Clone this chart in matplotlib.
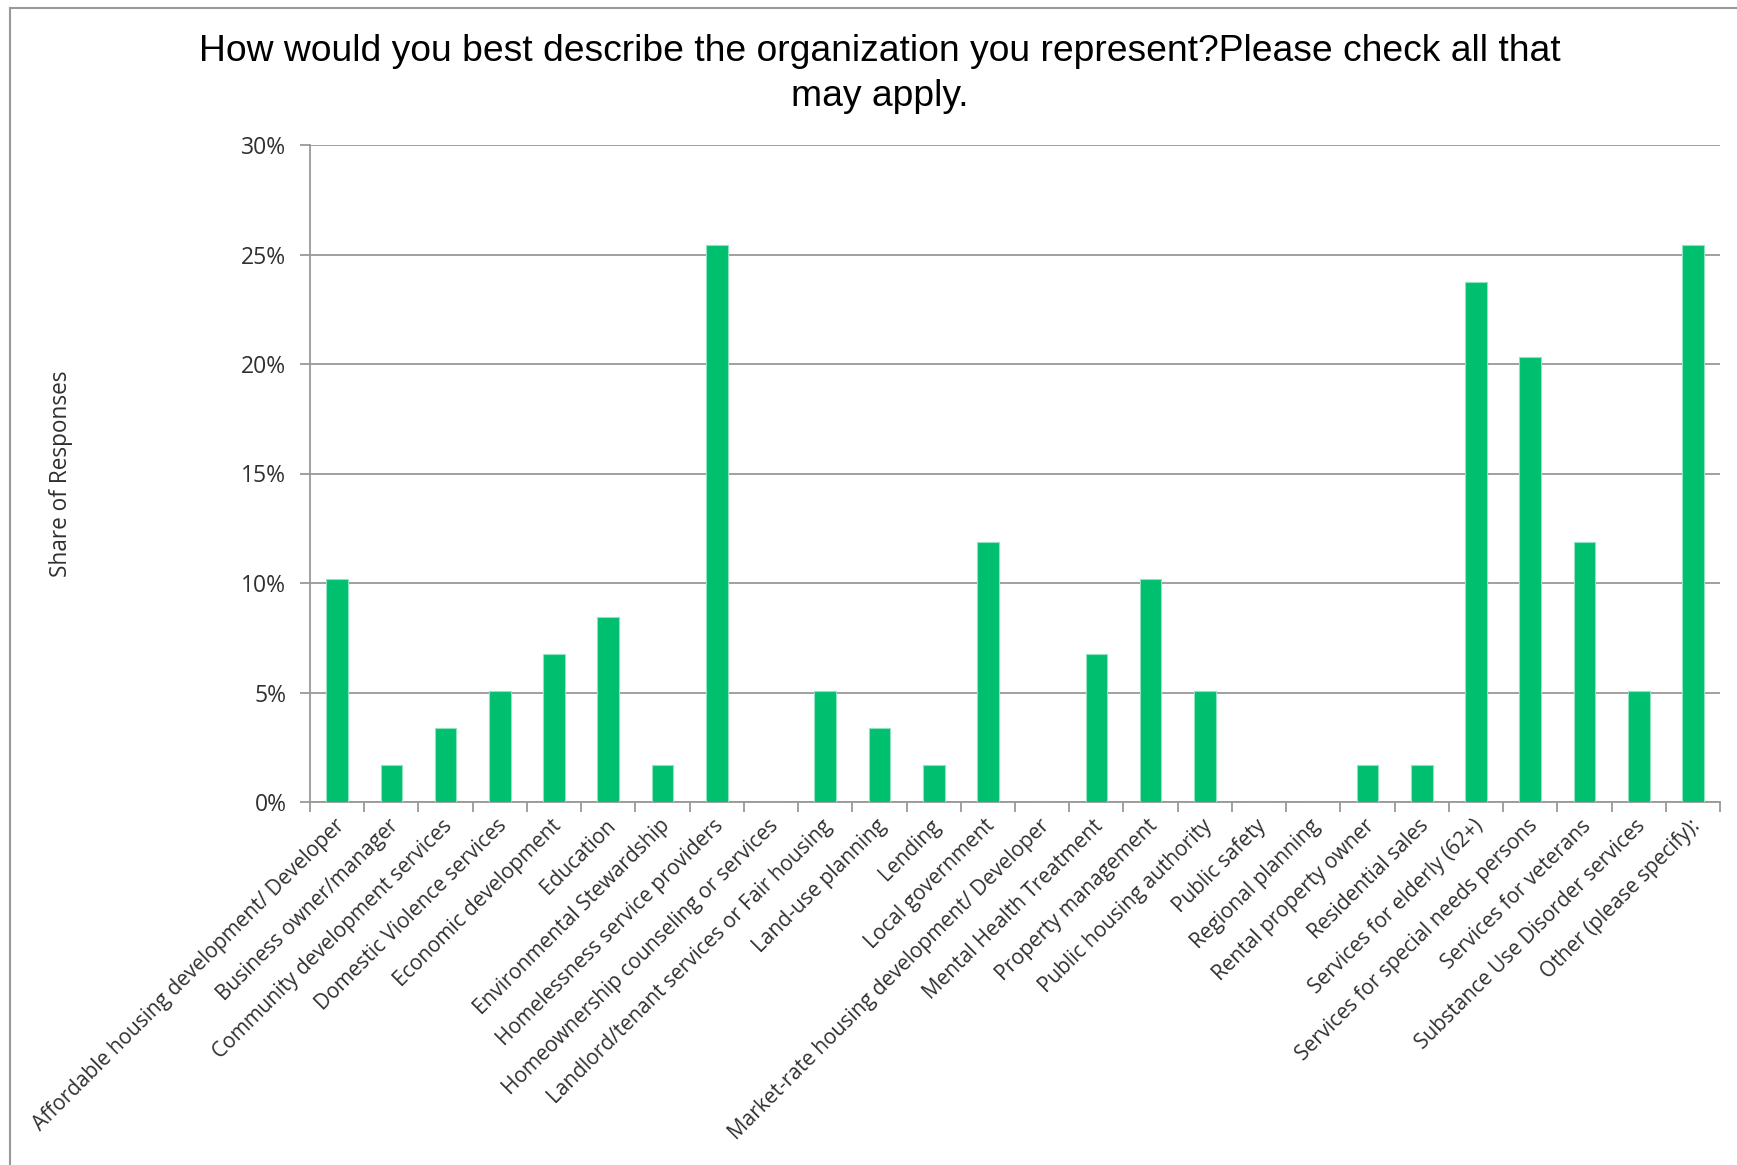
import matplotlib
matplotlib.use("Agg")
import matplotlib.pyplot as plt
import matplotlib.transforms as mtransforms
from matplotlib.ticker import PercentFormatter, FixedLocator
from matplotlib.lines import Line2D

categories = [
    "Affordable housing development/ Developer",
    "Business owner/manager",
    "Community development services",
    "Domestic Violence services",
    "Economic development",
    "Education",
    "Environmental Stewardship",
    "Homelessness service providers",
    "Homeownership counseling or services",
    "Landlord/tenant services or Fair housing",
    "Land-use planning",
    "Lending",
    "Local government",
    "Market-rate housing development/ Developer",
    "Mental Health Treatment",
    "Property management",
    "Public housing authority",
    "Public safety",
    "Regional planning",
    "Rental property owner",
    "Residential sales",
    "Services for elderly (62+)",
    "Services for special needs persons",
    "Services for veterans",
    "Substance Use Disorder services",
    "Other (please specify):",
]
shares = [
    10.17, 1.69, 3.39, 5.08, 6.78, 8.47, 1.69, 25.42, 0.0, 5.08,
    3.39, 1.69, 11.86, 0.0, 6.78, 10.17, 5.08, 0.0, 0.0, 1.69,
    1.69, 23.73, 20.34, 11.86, 5.08, 25.42,
]
y_ticks = [0, 5, 10, 15, 20, 25, 30]

title = "How would you best describe the organization you represent?Please check all that\nmay apply."
ylabel = "Share of Responses"

W, H = 1737, 1165
fig = plt.figure(figsize=(W / 100, H / 100), dpi=100)
fig.patch.set_facecolor("white")

ax = fig.add_axes([310 / W, 1 - 802 / H, (1720 - 310) / W, (802 - 145) / H])

x = list(range(len(categories)))
ax.bar(x, shares, width=0.4, color="#00BF6F", edgecolor="#8fe3bf", linewidth=0.8, zorder=3)

ax.set_xlim(-0.5, len(categories) - 0.5)
ax.set_ylim(0, 30)
ax.yaxis.set_major_locator(FixedLocator(y_ticks))
ax.yaxis.set_major_formatter(PercentFormatter(decimals=0))
ax.grid(axis="y", color="#999999", linewidth=1.3, zorder=0)
ax.set_axisbelow(True)

for s in ["top", "right"]:
    ax.spines[s].set_visible(False)
for s in ["left", "bottom"]:
    ax.spines[s].set_color("#999999")
    ax.spines[s].set_linewidth(1.3)

font = "Open Sans"
tcolor = "#303030"
ax.set_xticks(x)
ax.set_xticks([i - 0.5 for i in range(len(categories) + 1)], minor=True)
ax.tick_params(axis="x", which="major", length=0, pad=15)
ax.tick_params(axis="x", which="minor", length=7, width=1.3, color="#999999")
ax.tick_params(axis="y", which="major", length=7, width=1.3, color="#999999", pad=10,
               labelsize=16.5, labelcolor=tcolor)
for t in ax.get_yticklabels():
    t.set_fontfamily(font)

ax.set_xticklabels(categories, rotation=45, ha="right", va="center",
                   rotation_mode="anchor", fontsize=15, fontfamily=font, color=tcolor)
shift = mtransforms.ScaledTranslation(4 / 100, 0, fig.dpi_scale_trans)
for t in ax.get_xticklabels():
    t.set_transform(t.get_transform() + shift)

fig.text(61 / W, 1 - 474 / H, ylabel, rotation=90, ha="center", va="center",
         fontsize=16.3, fontfamily=font, color=tcolor)

fig.text(880 / W, 1 - 74 / H, title, ha="center", va="center", fontsize=26.8,
         fontfamily="Liberation Sans", color="black", linespacing=1.4)

# outer chart border (left and top edges visible)
fig.add_artist(Line2D([10 / W, 10 / W], [0, 1 - 8 / H], transform=fig.transFigure,
                      color="#999999", linewidth=1.5))
fig.add_artist(Line2D([10 / W, 1], [1 - 8 / H, 1 - 8 / H], transform=fig.transFigure,
                      color="#999999", linewidth=1.5))

fig.savefig("out.png", dpi=100, facecolor="white")
